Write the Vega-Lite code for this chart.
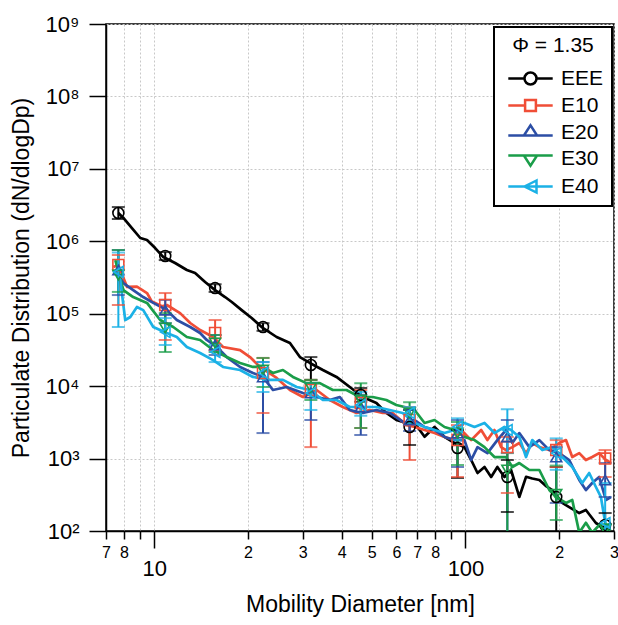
{
  "$schema": "https://vega.github.io/schema/vega-lite/v6.json",
  "width": 508,
  "height": 507,
  "autosize": {"type": "none"},
  "padding": {"left": 106, "top": 24, "right": 4, "bottom": 94},
  "background": "white",
  "config": {
    "font": "Liberation Sans",
    "view": {"stroke": "black", "strokeWidth": 1.5},
    "axis": {
      "domainColor": "black", "domainWidth": 1.5, "tickColor": "black", "tickWidth": 1.5,
      "labelColor": "black", "titleColor": "black", "titleFontWeight": "normal",
      "labelFlush": false, "labelOverlap": false, "grid": true, "gridColor": "#c8c8c8", "gridDash": [2, 2], "gridWidth": 1
    },
    "legend": {"strokeWidth": 2}
  },
  "datasets": {
    "lines": [
      {"s":"EEE","x":7.67,"y":2460000},{"s":"EEE","x":7.96,"y":2100000},{"s":"EEE","x":8.48,"y":1520000},{"s":"EEE","x":9.02,"y":1110000},{"s":"EEE","x":9.48,"y":1040000},{"s":"EEE","x":10.07,"y":807000},{"s":"EEE","x":10.69,"y":607000},{"s":"EEE","x":11.67,"y":501000},{"s":"EEE","x":12.73,"y":401000},{"s":"EEE","x":13.53,"y":365000},{"s":"EEE","x":14.57,"y":274000},{"s":"EEE","x":15.69,"y":212000},{"s":"EEE","x":16.89,"y":170000},{"s":"EEE","x":17.75,"y":145000},{"s":"EEE","x":19.1,"y":112000},{"s":"EEE","x":20.56,"y":87300},{"s":"EEE","x":22.14,"y":65500},{"s":"EEE","x":24.73,"y":47700},{"s":"EEE","x":27.29,"y":39400},{"s":"EEE","x":29.38,"y":25200},{"s":"EEE","x":31.62,"y":20900},{"s":"EEE","x":34.82,"y":16700},{"s":"EEE","x":38.51,"y":13400},{"s":"EEE","x":42.49,"y":9730},{"s":"EEE","x":46.77,"y":7080},{"s":"EEE","x":51.74,"y":5850},{"s":"EEE","x":55.69,"y":4260},{"s":"EEE","x":59.96,"y":3410},{"s":"EEE","x":64.55,"y":3100},{"s":"EEE","x":68.63,"y":3100},{"s":"EEE","x":73.89,"y":2000},{"s":"EEE","x":79.54,"y":2730},{"s":"EEE","x":85.64,"y":1990},{"s":"EEE","x":92.21,"y":1640},{"s":"EEE","x":99.26,"y":1440},{"s":"EEE","x":104.3,"y":955},{"s":"EEE","x":109.3,"y":632},{"s":"EEE","x":115.1,"y":765},{"s":"EEE","x":120.9,"y":557},{"s":"EEE","x":126.6,"y":765},{"s":"EEE","x":133.4,"y":557},{"s":"EEE","x":140.1,"y":695},{"s":"EEE","x":148.9,"y":295},{"s":"EEE","x":156.5,"y":560},{"s":"EEE","x":163.9,"y":530},{"s":"EEE","x":172.7,"y":506},{"s":"EEE","x":181,"y":420},{"s":"EEE","x":190,"y":368},{"s":"EEE","x":204.6,"y":244},{"s":"EEE","x":215.4,"y":214},{"s":"EEE","x":232,"y":177},{"s":"EEE","x":243.7,"y":195},{"s":"EEE","x":262.4,"y":129},{"s":"EEE","x":274.9,"y":114},{"s":"EEE","x":293,"y":107},
      {"s":"E10","x":7.39,"y":441000},{"s":"E10","x":7.67,"y":470000},{"s":"E10","x":8.18,"y":234000},{"s":"E10","x":8.8,"y":236000},{"s":"E10","x":9.48,"y":193000},{"s":"E10","x":9.83,"y":147000},{"s":"E10","x":10.59,"y":127000},{"s":"E10","x":10.98,"y":132000},{"s":"E10","x":12.11,"y":102000},{"s":"E10","x":13.05,"y":74400},{"s":"E10","x":14.04,"y":59600},{"s":"E10","x":15.46,"y":47700},{"s":"E10","x":16.64,"y":34700},{"s":"E10","x":18.87,"y":31500},{"s":"E10","x":20.31,"y":25200},{"s":"E10","x":21.87,"y":18400},{"s":"E10","x":24.73,"y":13000},{"s":"E10","x":27.29,"y":8850},{"s":"E10","x":30.04,"y":7080},{"s":"E10","x":33.23,"y":8850},{"s":"E10","x":36.66,"y":6440},{"s":"E10","x":40.35,"y":5150},{"s":"E10","x":44.65,"y":4260},{"s":"E10","x":49.24,"y":4690},{"s":"E10","x":54.2,"y":4260},{"s":"E10","x":58.34,"y":4260},{"s":"E10","x":64.55,"y":2910},{"s":"E10","x":68.63,"y":2730},{"s":"E10","x":73.89,"y":2480},{"s":"E10","x":79.54,"y":2250},{"s":"E10","x":85.64,"y":1990},{"s":"E10","x":92.21,"y":1800},{"s":"E10","x":96.87,"y":2480},{"s":"E10","x":104.3,"y":1800},{"s":"E10","x":112.3,"y":2480},{"s":"E10","x":117.6,"y":1800},{"s":"E10","x":123.9,"y":2480},{"s":"E10","x":130.1,"y":1440},{"s":"E10","x":135,"y":1310},{"s":"E10","x":141.4,"y":1440},{"s":"E10","x":148.9,"y":1640},{"s":"E10","x":156.5,"y":1190},{"s":"E10","x":163.9,"y":1640},{"s":"E10","x":172.7,"y":1440},{"s":"E10","x":185.9,"y":1310},{"s":"E10","x":200.1,"y":1640},{"s":"E10","x":210.3,"y":1800},{"s":"E10","x":220.3,"y":1050},{"s":"E10","x":232,"y":1190},{"s":"E10","x":243.7,"y":955},{"s":"E10","x":255.3,"y":1050},{"s":"E10","x":268.8,"y":1190},{"s":"E10","x":282.5,"y":955},{"s":"E10","x":293.1,"y":868},
      {"s":"E20","x":7.5,"y":401000},{"s":"E20","x":7.96,"y":265000},{"s":"E20","x":8.56,"y":212000},{"s":"E20","x":9.22,"y":170000},{"s":"E20","x":9.93,"y":141000},{"s":"E20","x":10.98,"y":112000},{"s":"E20","x":11.82,"y":81800},{"s":"E20","x":13.05,"y":65500},{"s":"E20","x":14.04,"y":54200},{"s":"E20","x":14.75,"y":43400},{"s":"E20","x":15.89,"y":34700},{"s":"E20","x":17.1,"y":25200},{"s":"E20","x":18.87,"y":18400},{"s":"E20","x":20.76,"y":15200},{"s":"E20","x":22.36,"y":13400},{"s":"E20","x":24.06,"y":8850},{"s":"E20","x":26.63,"y":9730},{"s":"E20","x":30.04,"y":8040},{"s":"E20","x":33.23,"y":7080},{"s":"E20","x":36.66,"y":6440},{"s":"E20","x":39.47,"y":7080},{"s":"E20","x":42.49,"y":4690},{"s":"E20","x":46.77,"y":4260},{"s":"E20","x":51.74,"y":4690},{"s":"E20","x":57.07,"y":4260},{"s":"E20","x":63.75,"y":3100},{"s":"E20","x":68.63,"y":3410},{"s":"E20","x":73.89,"y":2730},{"s":"E20","x":79.54,"y":2480},{"s":"E20","x":85.64,"y":1990},{"s":"E20","x":92.21,"y":1800},{"s":"E20","x":99.26,"y":1800},{"s":"E20","x":104.3,"y":955},{"s":"E20","x":109.3,"y":1440},{"s":"E20","x":117.6,"y":1190},{"s":"E20","x":126.6,"y":1800},{"s":"E20","x":135,"y":2480},{"s":"E20","x":141.4,"y":1640},{"s":"E20","x":148.9,"y":2250},{"s":"E20","x":160.4,"y":1440},{"s":"E20","x":172.7,"y":1800},{"s":"E20","x":185.9,"y":1310},{"s":"E20","x":200.1,"y":1190},{"s":"E20","x":215.4,"y":955},{"s":"E20","x":232,"y":506},{"s":"E20","x":243.7,"y":368},{"s":"E20","x":255.3,"y":460},{"s":"E20","x":268.8,"y":557},{"s":"E20","x":282.5,"y":268},{"s":"E20","x":293.1,"y":295},
      {"s":"E30","x":7.5,"y":551000},{"s":"E30","x":7.96,"y":212000},{"s":"E30","x":8.56,"y":170000},{"s":"E30","x":9.48,"y":141000},{"s":"E30","x":10.45,"y":81800},{"s":"E30","x":11.51,"y":65500},{"s":"E30","x":12.73,"y":47700},{"s":"E30","x":14.04,"y":43400},{"s":"E30","x":15.46,"y":31500},{"s":"E30","x":17.1,"y":25200},{"s":"E30","x":18.87,"y":20900},{"s":"E30","x":20.76,"y":18400},{"s":"E30","x":22.36,"y":18400},{"s":"E30","x":24.06,"y":15200},{"s":"E30","x":25.91,"y":16700},{"s":"E30","x":27.9,"y":13400},{"s":"E30","x":30.86,"y":11000},{"s":"E30","x":34.05,"y":11000},{"s":"E30","x":37.48,"y":8850},{"s":"E30","x":41.46,"y":8850},{"s":"E30","x":45.75,"y":7080},{"s":"E30","x":50.34,"y":7080},{"s":"E30","x":55.69,"y":6440},{"s":"E30","x":59.96,"y":5490},{"s":"E30","x":63.75,"y":5150},{"s":"E30","x":68.63,"y":4690},{"s":"E30","x":73.89,"y":3100},{"s":"E30","x":79.54,"y":3410},{"s":"E30","x":85.64,"y":2730},{"s":"E30","x":92.21,"y":2480},{"s":"E30","x":99.26,"y":1990},{"s":"E30","x":106.9,"y":1800},{"s":"E30","x":115.1,"y":1440},{"s":"E30","x":123.9,"y":1050},{"s":"E30","x":135,"y":1050},{"s":"E30","x":141.4,"y":765},{"s":"E30","x":148.9,"y":868},{"s":"E30","x":160.4,"y":695},{"s":"E30","x":172.7,"y":695},{"s":"E30","x":185.9,"y":368},{"s":"E30","x":195.3,"y":295},{"s":"E30","x":210.3,"y":244},{"s":"E30","x":220.3,"y":268},{"s":"E30","x":232,"y":95},{"s":"E30","x":243.7,"y":130},{"s":"E30","x":255.3,"y":95},{"s":"E30","x":268.8,"y":120},{"s":"E30","x":282.5,"y":100},{"s":"E30","x":293.1,"y":107},
      {"s":"E40","x":7.39,"y":401000},{"s":"E40","x":7.78,"y":292000},{"s":"E40","x":8.07,"y":81800},{"s":"E40","x":8.38,"y":90000},{"s":"E40","x":8.8,"y":124000},{"s":"E40","x":9.22,"y":112000},{"s":"E40","x":9.93,"y":65500},{"s":"E40","x":10.98,"y":54200},{"s":"E40","x":11.82,"y":47700},{"s":"E40","x":12.73,"y":34700},{"s":"E40","x":14.04,"y":28700},{"s":"E40","x":15.46,"y":22900},{"s":"E40","x":16.64,"y":18400},{"s":"E40","x":18.87,"y":16700},{"s":"E40","x":20.76,"y":13400},{"s":"E40","x":23.54,"y":12200},{"s":"E40","x":25.91,"y":12200},{"s":"E40","x":28.67,"y":9730},{"s":"E40","x":31.62,"y":8850},{"s":"E40","x":34.82,"y":6440},{"s":"E40","x":38.51,"y":6440},{"s":"E40","x":42.49,"y":5150},{"s":"E40","x":46.77,"y":5150},{"s":"E40","x":51.74,"y":5150},{"s":"E40","x":57.07,"y":4690},{"s":"E40","x":62.82,"y":4260},{"s":"E40","x":68.63,"y":3100},{"s":"E40","x":73.89,"y":2730},{"s":"E40","x":79.54,"y":2480},{"s":"E40","x":85.64,"y":2250},{"s":"E40","x":92.21,"y":2480},{"s":"E40","x":99.26,"y":3100},{"s":"E40","x":106.9,"y":2730},{"s":"E40","x":115.1,"y":3100},{"s":"E40","x":123.9,"y":2250},{"s":"E40","x":133.4,"y":2730},{"s":"E40","x":140.1,"y":2480},{"s":"E40","x":148.9,"y":1990},{"s":"E40","x":156.5,"y":1050},{"s":"E40","x":163.9,"y":1800},{"s":"E40","x":176.6,"y":1310},{"s":"E40","x":190,"y":1440},{"s":"E40","x":204.6,"y":1050},{"s":"E40","x":220.3,"y":765},{"s":"E40","x":237.1,"y":460},{"s":"E40","x":249.7,"y":632},{"s":"E40","x":262.4,"y":405},{"s":"E40","x":272.3,"y":295},{"s":"E40","x":282.5,"y":114},{"s":"E40","x":293.1,"y":129}
    ],
    "markers": [
      {"s":"EEE","x":7.67,"y":2460000,"lo":2030000,"hi":2970000},{"s":"EEE","x":10.85,"y":626000,"lo":550000,"hi":710000},{"s":"EEE","x":15.69,"y":226000,"lo":200000,"hi":255000},{"s":"EEE","x":22.36,"y":65500,"lo":58000,"hi":74000},{"s":"EEE","x":31.86,"y":19600,"lo":12200,"hi":25200},{"s":"EEE","x":46.09,"y":7550,"lo":6100,"hi":9400},{"s":"EEE","x":66.14,"y":2730,"lo":1540,"hi":4690},{"s":"EEE","x":94.27,"y":1400,"lo":539,"hi":2480},{"s":"EEE","x":136.3,"y":557,"lo":183,"hi":955},{"s":"EEE","x":195.7,"y":295,"lo":60,"hi":765},{"s":"EEE","x":281,"y":121,"lo":60,"hi":177},
      {"s":"E10","x":7.67,"y":470000,"lo":132000,"hi":646000},{"s":"E10","x":10.85,"y":132000,"lo":43400,"hi":193000},{"s":"E10","x":15.69,"y":54200,"lo":31500,"hi":81800},{"s":"E10","x":22.36,"y":15200,"lo":4260,"hi":24500},{"s":"E10","x":31.86,"y":8850,"lo":1440,"hi":12200},{"s":"E10","x":46.09,"y":5850,"lo":2640,"hi":8850},{"s":"E10","x":66.14,"y":3410,"lo":955,"hi":5150},{"s":"E10","x":94.27,"y":1800,"lo":557,"hi":2900},{"s":"E10","x":136.3,"y":1440,"lo":335,"hi":1990},{"s":"E10","x":195.7,"y":1310,"lo":765,"hi":1800},{"s":"E10","x":281,"y":1000,"lo":557,"hi":1310},
      {"s":"E20","x":7.67,"y":401000,"lo":181000,"hi":758000},{"s":"E20","x":10.85,"y":112000,"lo":74000,"hi":155000},{"s":"E20","x":15.69,"y":37000,"lo":26900,"hi":50800},{"s":"E20","x":22.36,"y":13400,"lo":2250,"hi":21500},{"s":"E20","x":31.86,"y":8040,"lo":3410,"hi":11000},{"s":"E20","x":46.09,"y":5150,"lo":2120,"hi":7600},{"s":"E20","x":66.14,"y":3410,"lo":2400,"hi":4690},{"s":"E20","x":94.27,"y":2250,"lo":765,"hi":3410},{"s":"E20","x":136.3,"y":1990,"lo":90,"hi":3410},{"s":"E20","x":195.7,"y":1050,"lo":244,"hi":1440},{"s":"E20","x":281,"y":506,"lo":295,"hi":868},
      {"s":"E30","x":7.67,"y":342000,"lo":200000,"hi":758000},{"s":"E30","x":10.85,"y":63500,"lo":29600,"hi":102000},{"s":"E30","x":15.69,"y":39400,"lo":29600,"hi":50800},{"s":"E30","x":22.36,"y":16700,"lo":9730,"hi":24500},{"s":"E30","x":31.86,"y":9500,"lo":6440,"hi":12200},{"s":"E30","x":46.09,"y":6440,"lo":2640,"hi":11000},{"s":"E30","x":66.14,"y":4260,"lo":2900,"hi":6000},{"s":"E30","x":94.27,"y":2250,"lo":815,"hi":3200},{"s":"E30","x":136.3,"y":695,"lo":95,"hi":1190},{"s":"E30","x":195.7,"y":320,"lo":142,"hi":800},{"s":"E30","x":281,"y":105,"lo":90,"hi":125},
      {"s":"E40","x":7.67,"y":377000,"lo":65500,"hi":700000},{"s":"E40","x":10.85,"y":55900,"lo":37000,"hi":87000},{"s":"E40","x":15.69,"y":29600,"lo":21500,"hi":37000},{"s":"E40","x":22.36,"y":15200,"lo":8300,"hi":21500},{"s":"E40","x":31.86,"y":8040,"lo":4690,"hi":11000},{"s":"E40","x":46.09,"y":5500,"lo":3900,"hi":8300},{"s":"E40","x":66.14,"y":4260,"lo":3100,"hi":5150},{"s":"E40","x":94.27,"y":2730,"lo":1800,"hi":3600},{"s":"E40","x":136.3,"y":2480,"lo":1200,"hi":4800},{"s":"E40","x":195.7,"y":1190,"lo":700,"hi":1900},{"s":"E40","x":281,"y":129,"lo":90,"hi":460}
    ]
  },
  "encoding": {
    "x": {
      "field": "x", "type": "quantitative",
      "scale": {"type": "log", "domain": [7, 300]},
      "title": "Mobility Diameter [nm]",
      "axis": {
        "values": [7, 8, 9, 10, 20, 30, 40, 50, 60, 70, 80, 90, 100, 200, 300],
        "labelExpr": "(datum.value == 9 || datum.value == 90) ? '' : (datum.value == 10 || datum.value == 100) ? datum.label : substring(datum.label, 0, 1)",
        "labelFontSize": {"condition": {"test": "datum.value == 10 || datum.value == 100", "value": 22}, "value": 16},
        "tickSize": {"condition": {"test": "datum.value == 10 || datum.value == 100", "value": 17}, "value": 8},
        "labelPadding": {"condition": {"test": "datum.value == 10 || datum.value == 100", "value": 10}, "value": 5},
        "labelBaseline": "top",
        "titleFontSize": 23,
        "titlePadding": 14
      }
    }
  },
  "layer": [
    {
      "data": {"name": "lines"},
      "mark": {"type": "line", "strokeWidth": 2.7, "strokeJoin": "round", "clip": true},
      "encoding": {
        "y": {
          "field": "y", "type": "quantitative",
          "scale": {"type": "log", "domain": [100, 1000000000]},
          "title": "Particulate Distribution (dN/dlogDp)",
          "axis": {
            "values": [100, 1000, 10000, 100000, 1000000, 10000000, 100000000, 1000000000],
            "labelExpr": "'10' + ['⁰','¹','²','³','⁴','⁵','⁶','⁷','⁸','⁹'][round(log(datum.value) / LN10)]",
            "labelFontSize": 22,
            "tickSize": 17,
            "labelPadding": 10,
            "titleFontSize": 23,
            "titlePadding": 12
          }
        },
        "color": {
          "field": "s", "type": "nominal",
          "scale": {"domain": ["EEE", "E10", "E20", "E30", "E40"], "range": ["#000000", "#f04e37", "#2c4ea5", "#1a9d49", "#1bb1e6"]},
          "legend": null
        }
      }
    },
    {
      "data": {"name": "markers"},
      "mark": {"type": "rule", "strokeWidth": 2, "clip": true},
      "encoding": {
        "y": {"field": "lo", "type": "quantitative", "scale": {"type": "log", "domain": [100, 1000000000]}, "title": "Particulate Distribution (dN/dlogDp)"},
        "y2": {"field": "hi"},
        "color": {"field": "s", "type": "nominal", "scale": {"domain": ["EEE", "E10", "E20", "E30", "E40"], "range": ["#000000", "#f04e37", "#2c4ea5", "#1a9d49", "#1bb1e6"]}, "legend": null}
      }
    },
    {
      "data": {"name": "markers"},
      "transform": [{"fold": ["lo", "hi"], "as": ["k", "v"]}],
      "mark": {"type": "tick", "orient": "horizontal", "size": 13, "thickness": 2, "clip": true},
      "encoding": {
        "y": {"field": "v", "type": "quantitative", "scale": {"type": "log", "domain": [100, 1000000000]}, "title": "Particulate Distribution (dN/dlogDp)"},
        "color": {"field": "s", "type": "nominal", "scale": {"domain": ["EEE", "E10", "E20", "E30", "E40"], "range": ["#000000", "#f04e37", "#2c4ea5", "#1a9d49", "#1bb1e6"]}, "legend": null}
      }
    },
    {
      "data": {"name": "markers"},
      "mark": {"type": "point", "filled": false, "size": 120, "strokeWidth": 1.6, "opacity": 1, "clip": true},
      "encoding": {
        "y": {"field": "y", "type": "quantitative", "scale": {"type": "log", "domain": [100, 1000000000]}, "title": "Particulate Distribution (dN/dlogDp)"},
        "color": {"field": "s", "type": "nominal", "scale": {"domain": ["EEE", "E10", "E20", "E30", "E40"], "range": ["#000000", "#f04e37", "#2c4ea5", "#1a9d49", "#1bb1e6"]}, "legend": null},
        "shape": {
          "field": "s", "type": "nominal",
          "scale": {"domain": ["EEE", "E10", "E20", "E30", "E40"], "range": ["circle", "square", "triangle-up", "triangle-down", "triangle-left"]},
          "legend": null
        }
      }
    },
    {
      "data": {"name": "markers"},
      "mark": {"type": "point", "filled": false, "opacity": 0, "clip": true},
      "encoding": {
        "y": {"field": "y", "type": "quantitative", "scale": {"type": "log", "domain": [100, 1000000000]}, "title": "Particulate Distribution (dN/dlogDp)"},
        "color": {
          "field": "s", "type": "nominal",
          "scale": {"domain": ["EEE", "E10", "E20", "E30", "E40"], "range": ["#000000", "#f04e37", "#2c4ea5", "#1a9d49", "#1bb1e6"]},
          "legend": {
            "title": "Φ = 1.35", "orient": "none", "legendX": 388, "legendY": 3, "padding": 8,
            "strokeColor": "black", "fillColor": "white",
            "titleFontSize": 21, "titleFontWeight": "normal", "titleColor": "black", "titleAnchor": "middle", "titlePadding": 12,
            "labelFontSize": 21, "labelColor": "black",
            "symbolSize": 144, "symbolOffset": 18, "labelOffset": 20, "rowPadding": 4,
            "symbolStrokeWidth": 2.5, "symbolFillColor": "transparent", "symbolOpacity": 1
          }
        },
        "shape": {
          "field": "s", "type": "nominal",
          "scale": {
            "domain": ["EEE", "E10", "E20", "E30", "E40"],
            "range": [
              "M-3.7,0H-1M1,0H3.7M-1,0A1,1 0 1,0 1,0A1,1 0 1,0 -1,0",
              "M-3.7,0H-0.9M0.9,0H3.7M-0.9,-0.9H0.9V0.9H-0.9Z",
              "M-3.7,0.5H3.7M-1.1,0.5L0,-1.2L1.1,0.5Z",
              "M-3.7,-0.5H3.7M-1.1,-0.5L0,1.2L1.1,-0.5Z",
              "M-3.7,0H3.7M1,-1L-1,0L1,1Z"
            ]
          },
          "legend": {
            "title": "Φ = 1.35", "orient": "none", "legendX": 388, "legendY": 3, "padding": 8,
            "strokeColor": "black", "fillColor": "white",
            "titleFontSize": 21, "titleFontWeight": "normal", "titleColor": "black", "titleAnchor": "middle", "titlePadding": 12,
            "labelFontSize": 21, "labelColor": "black",
            "symbolSize": 144, "symbolOffset": 18, "labelOffset": 20, "rowPadding": 4,
            "symbolStrokeWidth": 2.5, "symbolFillColor": "transparent", "symbolOpacity": 1
          }
        }
      }
    }
  ],
  "resolve": {"scale": {"shape": "independent", "color": "independent"}}
}
